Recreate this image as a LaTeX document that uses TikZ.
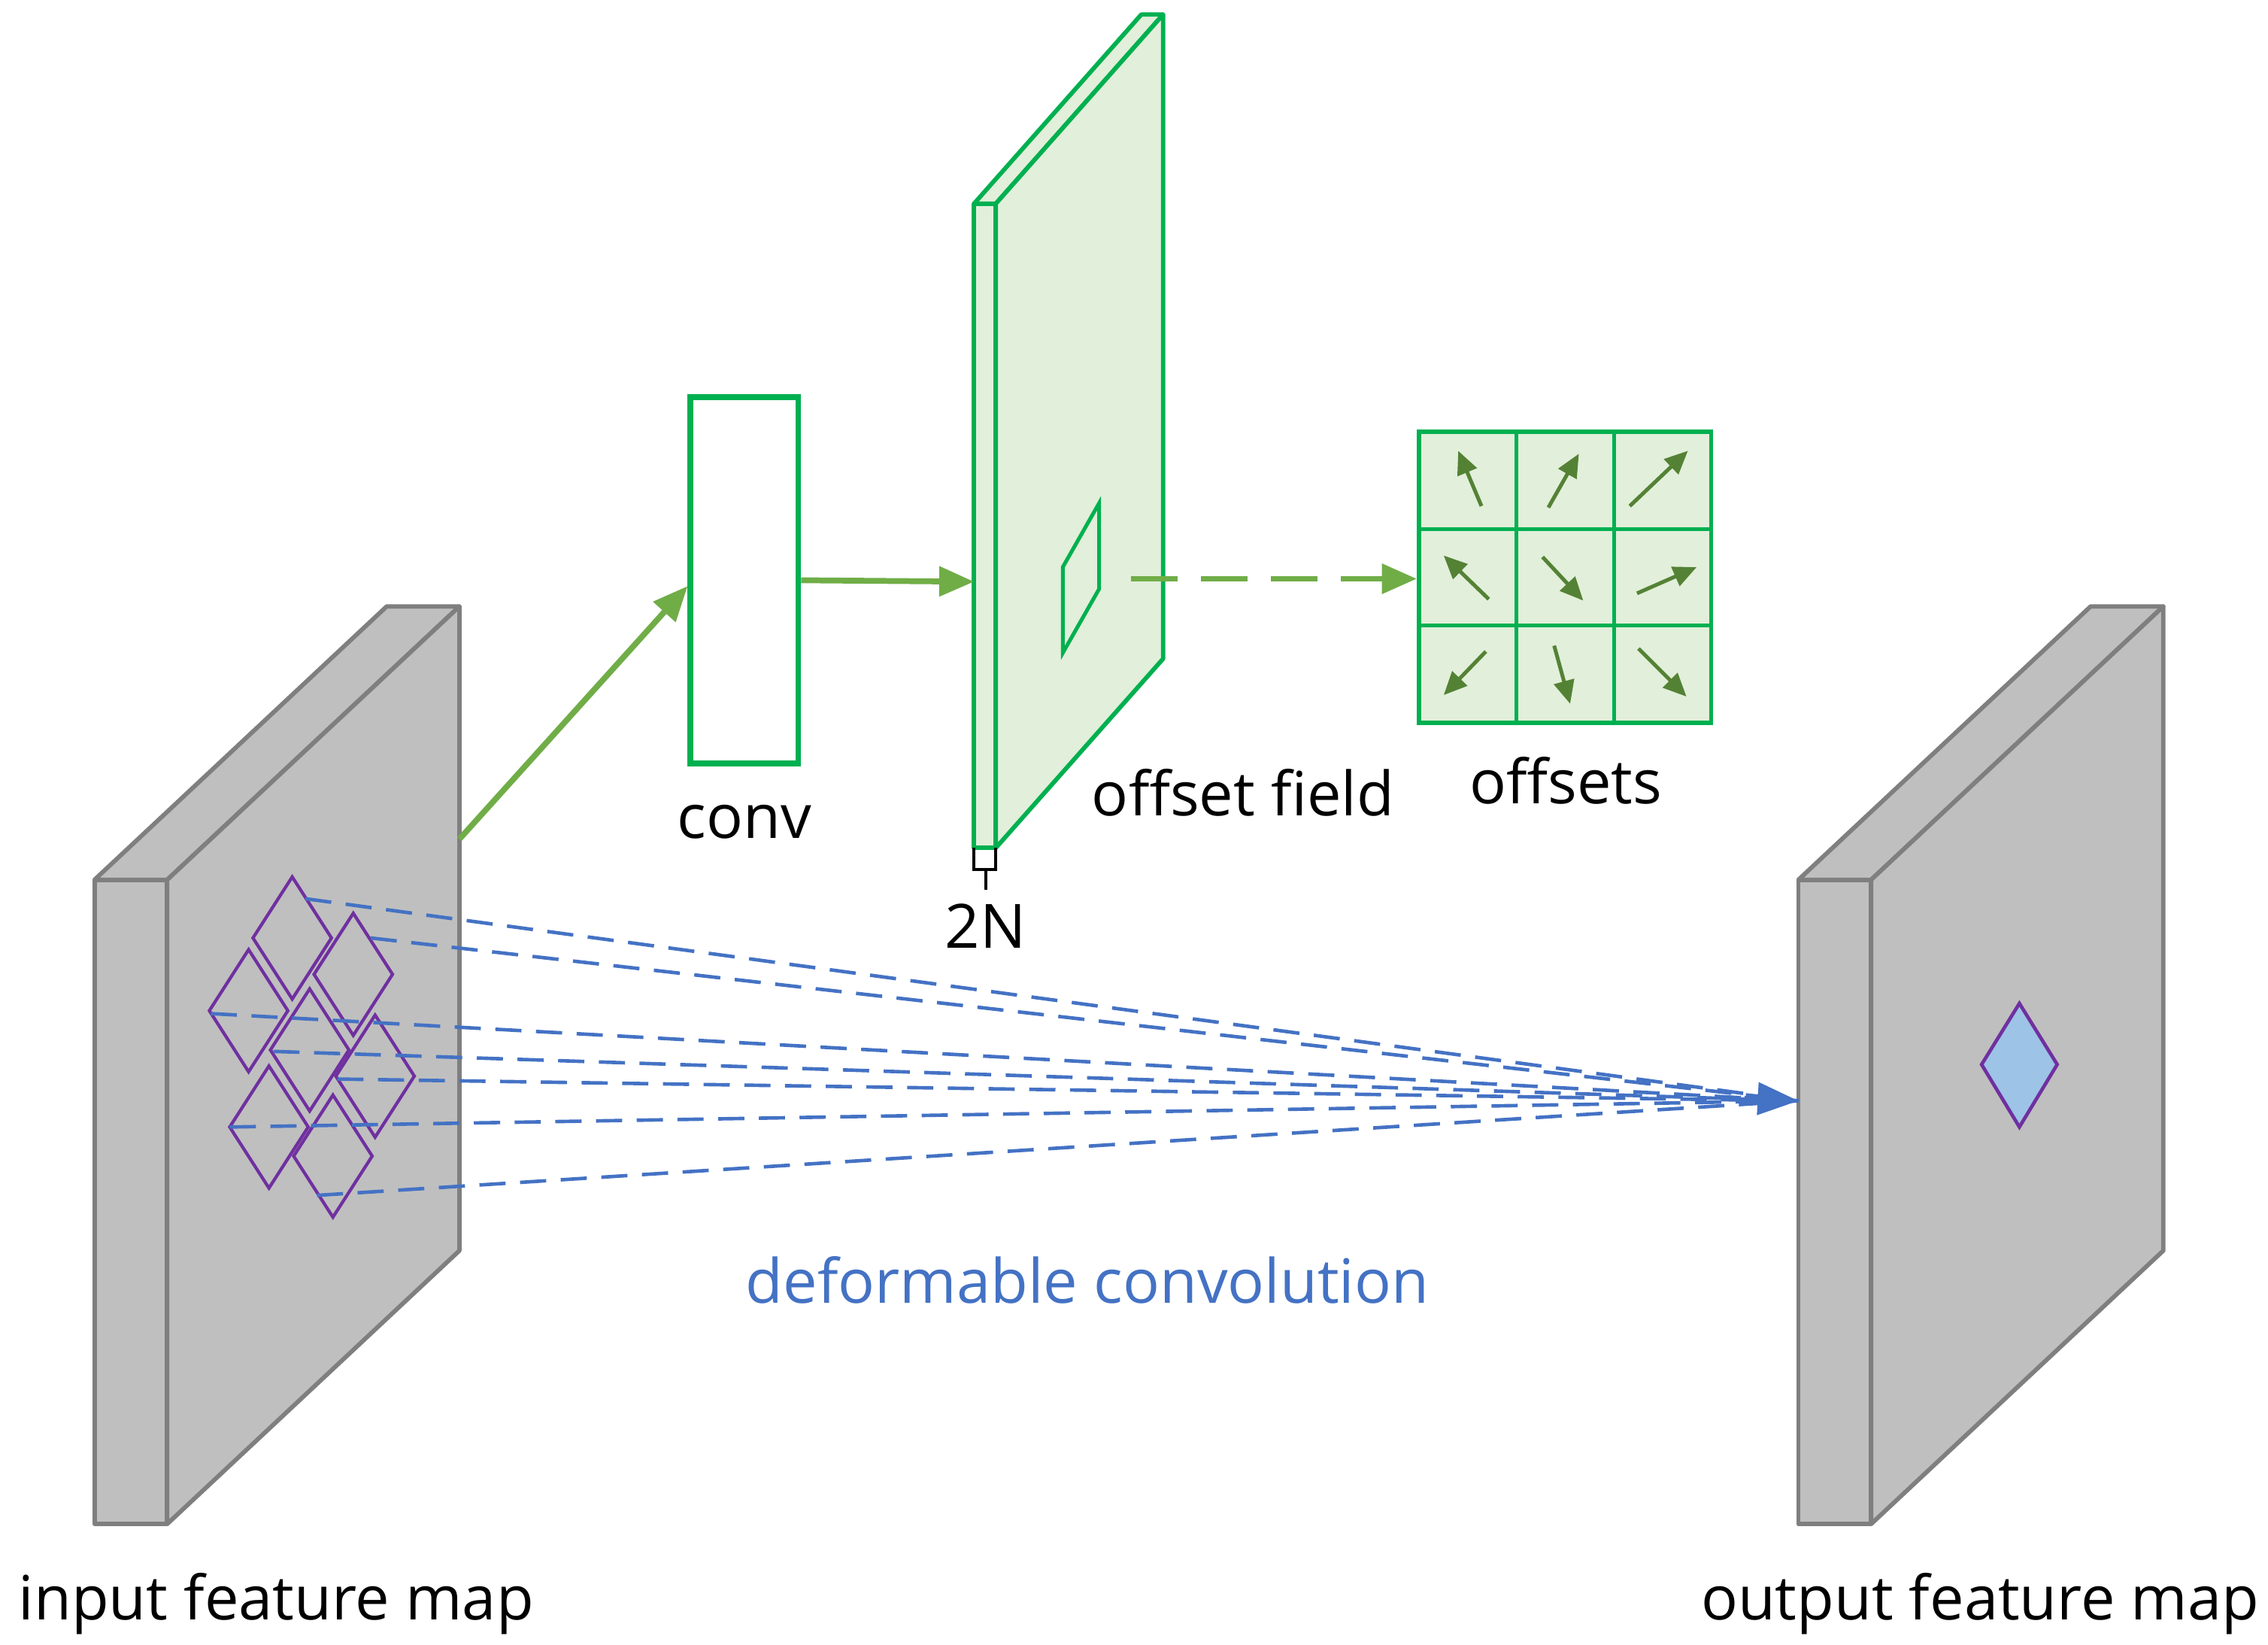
\documentclass[tikz,border=0pt]{standalone}
\usepackage{fontspec}
\setmainfont{Open Sans}
\usetikzlibrary{arrows.meta}
\definecolor{gfill}{HTML}{BFBFBF}\definecolor{gline}{HTML}{7F7F7F}
\definecolor{grn}{HTML}{00B050}\definecolor{lgrn}{HTML}{E2EFDA}
\definecolor{agrn}{HTML}{70AD47}\definecolor{dgrn}{HTML}{548235}
\definecolor{blu}{HTML}{4472C4}\definecolor{pur}{HTML}{7030A0}\definecolor{lblu}{HTML}{9DC3E6}
\begin{document}
\begin{tikzpicture}[x=0.5pt,y=-0.5pt,
 map/.style={fill=gfill,draw=gline,line width=1.5pt,line join=round},
 fld/.style={fill=lgrn,draw=grn,line width=1.5pt,line join=round},
 lbl/.style={font=\fontsize{21}{25}\selectfont},
 dia/.style={draw=pur,line width=1.1pt},
 dl/.style={draw=blu,line width=1.2pt,dash pattern=on 9pt off 5pt},
 oa/.style={dgrn,line width=1.3pt,-{Triangle[length=8pt,width=7pt]}}]
\useasboundingbox (0,0) rectangle (1560,1131);
% input map
\draw[map] (65,605)--(115,605)--(316,417)--(266,417)--cycle;
\draw[map] (65,605) rectangle (115,1048);
\draw[map] (115,605)--(316,417)--(316,860)--(115,1048)--cycle;
% output map
\draw[map] (1237,605)--(1287,605)--(1488,417)--(1438,417)--cycle;
\draw[map] (1237,605) rectangle (1287,1048);
\draw[map] (1287,605)--(1488,417)--(1488,860)--(1287,1048)--cycle;
\coordinate (tgt) at (1237,757);
% conv
\node[draw=grn,line width=2pt,fill=white,minimum width=37pt,minimum height=126pt,inner sep=0] (conv) at (512,399) {};
% offset field
\draw[fld] (670,140)--(685,140)--(800,10)--(785,10)--cycle;
\draw[fld] (670,140) rectangle (685,583);
\draw[fld] (685,140)--(800,10)--(800,453)--(685,583)--cycle;
\draw[grn,line width=1.3pt] (731,390)--(756,346)--(756,405)--(731,449)--cycle;
\coordinate (fin) at (670,400);
\coordinate (fout) at (778,398);
\draw[line width=1pt] (670,583)--(670,598)--(685,598)--(685,583) (678,598)--(678,612);
\node[lbl] (twoN) at (678,637) {2N};
% input arrow
\coordinate (inout) at (316,577);
\draw[agrn,line width=2pt,-{Triangle[length=12pt,width=10pt]}] (inout)--(conv.west|-0,403);
\draw[agrn,line width=2pt,-{Triangle[length=12pt,width=10pt]}] (conv.east)--(fin);
% offsets grid
\node[fill=lgrn,draw=grn,line width=1.5pt,minimum width=100.5pt,minimum height=100pt,inner sep=0] (grid) at (1076.5,397) {};
\draw[grn,line width=1.3pt] (1043,297)--(1043,497) (1110,297)--(1110,497) (976,363.7)--(1177,363.7) (976,430.3)--(1177,430.3);
\draw[agrn,line width=2pt,dash pattern=on 16pt off 8pt,-{Triangle[length=12pt,width=10pt]}] (fout)--(grid.west|-0,398);
\draw[oa] (1019,348)--(1003,310);
\draw[oa] (1065,349)--(1086,312);
\draw[oa] (1121,348)--(1161,310);
\draw[oa] (1024,412)--(993,382);
\draw[oa] (1061,383)--(1089,413);
\draw[oa] (1126,408)--(1167,390);
\draw[oa] (1022,448)--(993,478);
\draw[oa] (1069,444)--(1080,484);
\draw[oa] (1127,446)--(1160,479);
% diamonds
\foreach \cx/\cy in {201/645,243/670,171/695,213/722,258/740,185/775,229/795}
  \draw[dia] (\cx,\cy-42)--(\cx+27,\cy)--(\cx,\cy+42)--(\cx-27,\cy)--cycle;
\foreach \sx/\sy in {210/618,255/645,145/697,188/723,232/742,158/775,218/822}
  \draw[dl] (\sx,\sy)--(tgt);
\draw[blu,line width=1.5pt,-{Triangle[length=14pt,width=11pt]}] (1200,755)--(tgt);
\draw[pur,line width=1.2pt,fill=lblu] (1389,690)--(1415,732)--(1389,775)--(1363,732)--cycle;
% labels
\node[lbl] (lconv) at (512,565) {conv};
\node[lbl] (lfield) at (855,545) {offset field};
\node[lbl] (loff) at (1077,537) {offsets};
\node[lbl] (lin) at (190,1103) {input feature map};
\node[lbl] (lout) at (1362,1103) {output feature map};
\node[lbl,text=blu] (ldef) at (748,880) {deformable convolution};
\end{tikzpicture}
\end{document}
